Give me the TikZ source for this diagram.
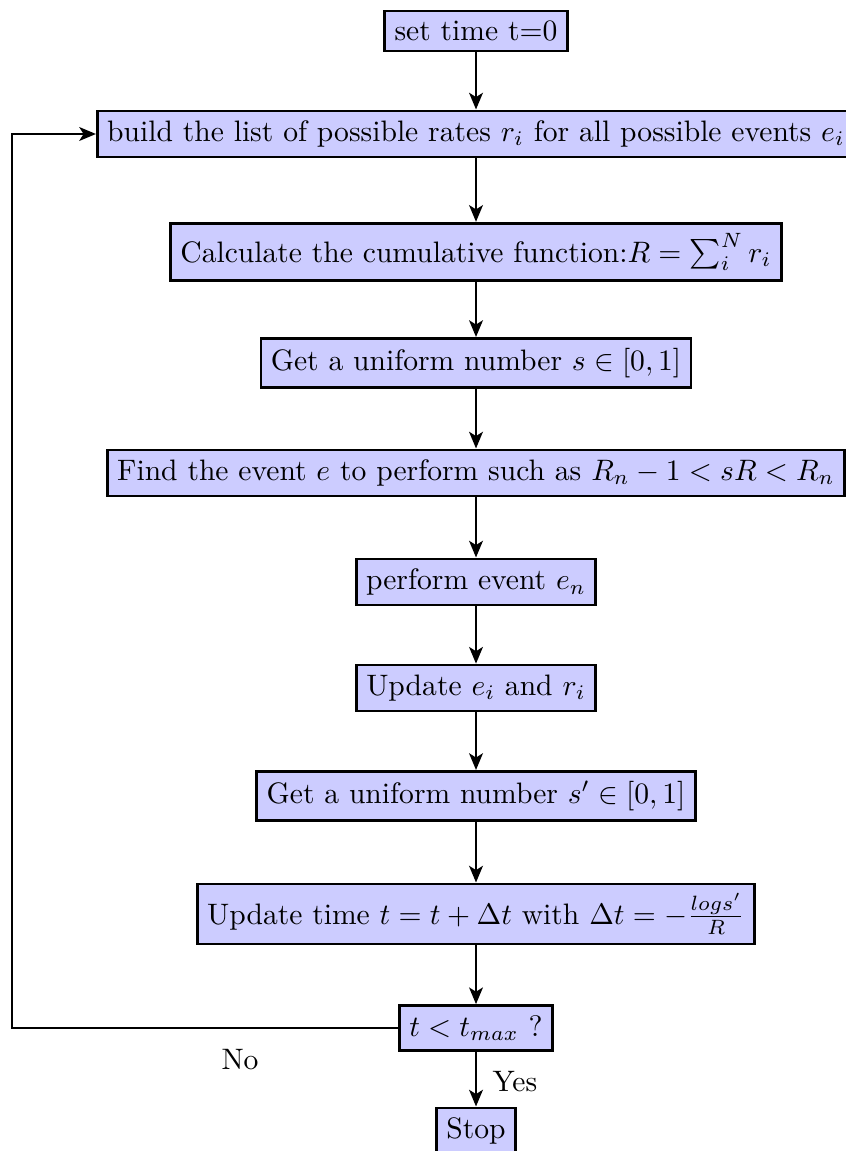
\documentclass[tikz,border=0pt]{standalone}
\usetikzlibrary{arrows.meta}
\begin{document}
\begin{tikzpicture}[x=0.338pt,y=-0.338pt,
  box/.style={draw,line width=0.9pt,fill=blue!20},
  arr/.style={line width=1pt,-{Stealth[length=5.6pt,width=4.6pt,inset=1.4pt]}}]
\useasboundingbox (0,0) rectangle (845,1151);
\node[box] (set) at (476,31) {set time t=0};
\node[box] (build) at (476,134) {build the list of possible rates $r_i$ for all possible events $e_i$};
\node[box] (calc) at (476,252) {Calculate the cumulative function:$R=\sum_i^N r_i$};
\node[box] (gets) at (476,363) {Get a uniform number $s\in[0,1]$};
\node[box] (find) at (476,473) {Find the event $e$ to perform such as $R_n-1<sR<R_n$};
\node[box] (perf) at (476,582) {perform event $e_n$};
\node[box] (upd) at (476,688) {Update $e_i$ and $r_i$};
\node[box] (gets2) at (476,796) {Get a uniform number $s'\in[0,1]$};
\node[box] (updt) at (476,914) {Update time $t=t+\Delta t$ with $\Delta t=-\frac{log s'}{R}$};
\node[box] (tmax) at (476,1028) {$t<t_{max}$ ?};
\node[box] (stop) at (476,1131) {Stop};
\coordinate (lc) at (12,0);
\node (no) at (240,1060) {No};
\node (yes) at (515,1082) {Yes};
\draw[arr] (set) -- (build);
\draw[arr] (build) -- (calc);
\draw[arr] (calc) -- (gets);
\draw[arr] (gets) -- (find);
\draw[arr] (find) -- (perf);
\draw[arr] (perf) -- (upd);
\draw[arr] (upd) -- (gets2);
\draw[arr] (gets2) -- (updt);
\draw[arr] (updt) -- (tmax);
\draw[arr] (tmax) -- (stop);
\draw[arr] (tmax.west) -- (tmax.west -| lc) |- (build.west);
\end{tikzpicture}
\end{document}
